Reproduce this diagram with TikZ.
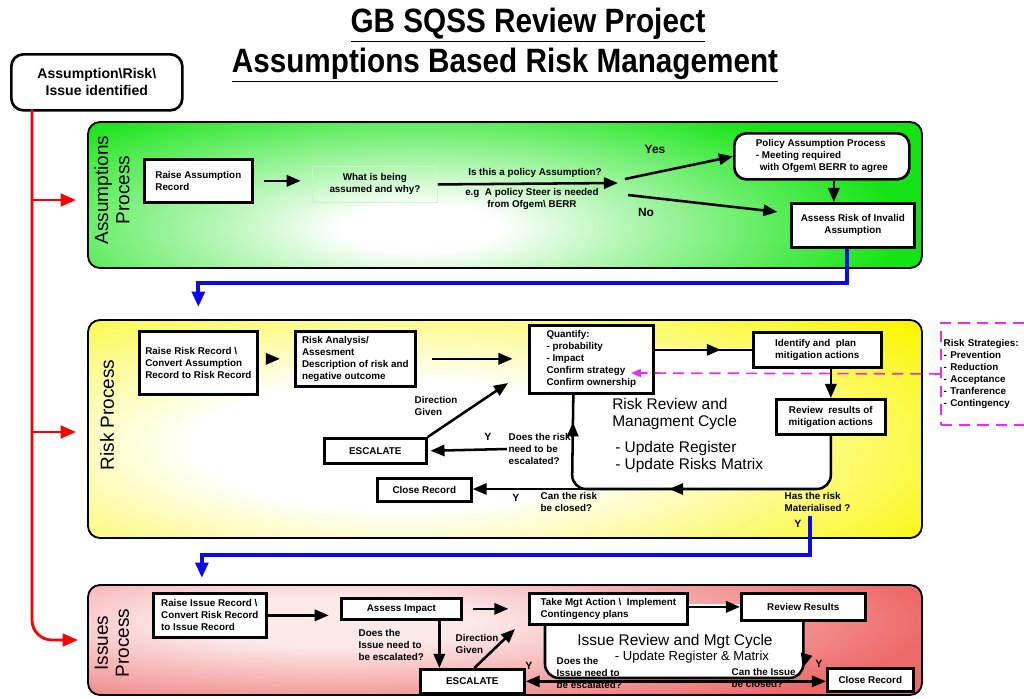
\documentclass[tikz,border=0pt]{standalone}
\usepackage{fontspec}
\setmainfont{Liberation Sans}
\newfontfamily\titlefont[FakeStretch=0.88]{Liberation Sans}
\usetikzlibrary{arrows.meta,decorations.markings}

\newcommand\pxu{0.025cm}
\newcommand\boxtext{\bfseries\fontsize{7}{8.5}\selectfont}
\definecolor{agreen}{RGB}{20,228,20}
\definecolor{ryellow}{RGB}{250,246,0}
\definecolor{ired}{RGB}{238,106,106}
\definecolor{stratpink}{RGB}{240,40,240}
\definecolor{flowblue}{RGB}{10,10,235}
\pgfdeclareradialshading{glowgreen}{\pgfpoint{0bp}{0bp}}{color(0bp)=(white); color(4bp)=(white); color(25bp)=(agreen); color(50bp)=(agreen)}
\pgfdeclareradialshading{glowyellow}{\pgfpoint{0bp}{0bp}}{color(0bp)=(white); color(8bp)=(white); color(25bp)=(ryellow); color(50bp)=(ryellow)}
\pgfdeclareradialshading{glowred}{\pgfpoint{0bp}{0bp}}{color(0bp)=(white!85!ired); color(6bp)=(white!85!ired); color(25bp)=(ired); color(50bp)=(ired)}

\begin{document}
\begin{tikzpicture}[x=\pxu,y=-\pxu]

    \tikzset{
      box/.style={draw, line width=1.9pt, fill=white, inner sep=2pt, anchor=north west, align=left, font=\boxtext},
      sized/.style 2 args={minimum width=#1*\pxu, minimum height=#2*\pxu},
      lbl/.style={font=\boxtext, align=left, inner sep=1pt},
      tag/.style={font=\bfseries\fontsize{8.5}{10}\selectfont, inner sep=1pt},
      side/.style={font=\fontsize{13.5}{15}\selectfont, rotate=90, align=center},
      cyctext/.style={font=\fontsize{11}{12.6}\selectfont, align=left, inner sep=0pt, anchor=west},
      arrow/.style={line width=1.8pt, -{Triangle[length=10pt,width=8pt]}},
      cycline/.style={line width=1.8pt},
      redarrow/.style={red, line width=2pt, -{Triangle[length=11pt,width=9pt]}},
      bluearrow/.style={flowblue, line width=2.8pt, -{Triangle[length=11pt,width=9pt]}},
      magarrow/.style={stratpink, line width=1.2pt, dash pattern=on 8pt off 5pt, -{Triangle[length=7pt,width=5.5pt]}},
      panel/.style={draw, line width=1.3pt, rounded corners=0.3cm},
      midtip/.style={postaction={decorate, decoration={markings, mark=at position #1 with {\arrow{Triangle[length=10pt,width=8pt]}}}}},
    }
    \clip (0,0) rectangle (1024,698);

    % headings
    \node[font=\titlefont\bfseries\fontsize{24}{28}\selectfont] (title) at (528,25) {\underline{GB SQSS Review Project}};
    \node[font=\titlefont\bfseries\fontsize{24}{28}\selectfont] (subtitle) at (505,65) {\underline{Assumptions Based Risk Management}};

    \node[box, sized={171}{56}, rounded corners=0.3cm, align=center, font=\bfseries\fontsize{10}{12}\selectfont] (ident) at (10,53) {Assumption\textbackslash Risk\textbackslash\\Issue identified};

    % panels
    \begin{scope}
      \clip[rounded corners=0.3cm] (88,122) rectangle (922,268);
      \fill[agreen] (88,122) rectangle (922,268);
      \shade[shading=glowgreen] (420,228) ellipse [x radius=12cm, y radius=3.6cm];
    \end{scope}
    \draw[panel] (88,122) rectangle (922,268);
    \begin{scope}
      \clip[rounded corners=0.3cm] (88,320) rectangle (922,538);
      \fill[ryellow] (88,320) rectangle (922,538);
      \shade[shading=glowyellow] (400,445) ellipse [x radius=16cm, y radius=5cm];
    \end{scope}
    \draw[panel] (88,320) rectangle (922,538);
    \begin{scope}
      \clip[rounded corners=0.3cm] (88,585) rectangle (922,695);
      \fill[ired] (88,585) rectangle (922,695);
      \shade[shading=glowred] (330,622) ellipse [x radius=15cm, y radius=2.6cm];
    \end{scope}
    \draw[panel] (88,585) rectangle (922,695);

    % red feed
    \coordinate (redtop) at (32,109);
    \coordinate (apin) at (76,200);
    \coordinate (rpin) at (76,432);
    \coordinate (ipin) at (78,640);
    \draw[redarrow, rounded corners=0.5cm] (redtop) |- (ipin);
    \draw[redarrow] (redtop |- apin) -- (apin);
    \draw[redarrow] (redtop |- rpin) -- (rpin);

    % assumptions
    \node[side] (aside) at (112,190) {Assumptions\\Process};
    \node[box, sized={108}{43}] (rar) at (143,158) {Raise Assumption\\Record};
    \node[box, sized={125}{36}, draw=white!75!agreen, line width=0.6pt, fill=none, align=center] (what) at (312,166) {What is being\\assumed and why?};
    \node[box, sized={175}{46}, rounded corners=0.3cm] (pap) at (733,132) {Policy Assumption Process\\- Meeting required\\\hspace*{0.4em}with Ofgem\textbackslash\ BERR to agree};
    \node[box, sized={123}{44}, align=center] (arisk) at (790,202) {Assess Risk of Invalid\\Assumption};
    \coordinate (fork) at (618,183);
    \coordinate (yesfrom) at (625,179);
    \coordinate (nofrom) at (628,195);
    \draw[arrow, shorten <=7pt, shorten >=8pt] (rar.east) -- (rar.east -| what.west);
    \draw[arrow] (what.east) -- (fork);
    \node[lbl] (polq) at (535,173) {Is this a policy Assumption?};
    \node[lbl, align=center] (polnote) at (532,199) {e.g\ \ A policy Steer is needed\\from Ofgem\textbackslash\ BERR};
    \draw[arrow] (yesfrom) -- (pap.west);
    \draw[arrow, shorten >=9pt] (nofrom) -- ([yshift=12*\pxu]arisk.west);
    \node[tag] (yes) at (655,149) {Yes};
    \node[tag] (no) at (646,212) {No};
    \draw[arrow] ([xshift=12*\pxu]pap.south) -- ([xshift=-19*\pxu]arisk.north);

    % risks
    \node[side] (rside) at (107,415) {Risk Process};
    \node[box, sized={118}{63}] (rrr) at (138,330) {Raise Risk Record \textbackslash\\Convert Assumption\\Record to Risk Record};
    \node[box, sized={120}{55}] (ra) at (294,330) {Risk Analysis/\\Assesment\\Description of risk and\\negative outcome};
    \coordinate (rcl) at (572,489);
    \fill[white, rounded corners=0.35cm] (572,348) rectangle (830,489);
    \node[box, sized={124}{68}] (quant) at (528,324) {Quantify:\\- probability\\- Impact\\Confirm strategy\\Confirm ownership};
    \node[box, sized={128}{35}] (plan) at (752,331) {Identify and\ \ plan\\mitigation actions};
    \node[box, sized={109}{35}, align=center] (rvw) at (775,398) {Review\ \ results of\\mitigation actions};
    \draw[cycline, rounded corners=0.35cm, midtip=0.53, midtip=0.93] (rvw.south) |- (rcl) -- ([xshift=-18*\pxu]quant.south);
    \draw[cycline, midtip=0.68] (quant.east |- plan.west) -- (plan.west);
    \draw[arrow] (rvw.north |- plan.south) -- (rvw.north);
    \draw[arrow, shorten <=7pt, shorten >=10pt] (rrr.east |- ra.west) -- (ra.west);
    \draw[arrow, shorten <=11pt, shorten >=11pt] (ra.east) -- (ra.east -| quant.west);
    \node[cyctext] (rcyc) at (612,414) {Risk Review and\\Managment Cycle};
    \node[cyctext] (rupd) at (615,457) {- Update Register\\- Update Risks Matrix};

    \node[draw, stratpink, line width=1.3pt, dash pattern=on 8pt off 5pt, anchor=north west, minimum height=102*\pxu, text width=2.6cm, inner sep=2pt, align=left, font=\boxtext, text=black] (strat) at (940,322) {Risk Strategies:\\- Prevention\\- Reduction\\- Acceptance\\- Tranference\\- Contingency};
    \coordinate (qtip) at (631,373);
    \draw[magarrow] (strat.west) -- (qtip);

    \node[box, sized={102}{25}, align=center] (resc) at (323,437) {ESCALATE};
    \node[lbl, anchor=west] (rq) at (507,449) {Does the risk\\need to be\\escalated?};
    \draw[arrow, shorten >=2pt] (rq.west) -- (resc.east);
    \node[tag, font=\bfseries\fontsize{7.5}{9}\selectfont] (ry1) at (488,437) {Y};
    \node[lbl, align=left] (rdirl) at (436,406) {Direction\\Given};
    \coordinate (rdir) at (508,383);
    \draw[arrow] (resc.north east) -- (rdir);

    \node[box, sized={94}{23}, align=center] (rclose) at (376,477) {Close Record};
    \draw[arrow] ([xshift=20*\pxu]rcl) -- (rclose.east |- rcl);
    \node[tag, font=\bfseries\fontsize{7.5}{9}\selectfont] (ry2) at (516,498) {Y};
    \node[lbl, anchor=west] (rcq) at (539,502) {Can the risk\\be closed?};
    \node[lbl, anchor=west] (mat) at (783,502) {Has the risk\\Materialised ?};
    \node[tag, font=\bfseries\fontsize{7.5}{9}\selectfont] (ry3) at (798,524) {Y};
    \coordinate (bstart) at (810,516);
    \draw[bluearrow] ([xshift=-6*\pxu]arisk.south) -- ++(0,34) -| ([yshift=23*\pxu]rrr.north);

    % issues
    \node[side] (iside) at (112,643) {Issues\\Process};
    \node[box, sized={113}{44}] (iraise) at (152,592) {Raise Issue Record \textbackslash\\Convert Risk Record\\to Issue Record};
    \draw[bluearrow] (bstart) -- ++(0,39) -| ([xshift=-8*\pxu, yshift=14*\pxu]iraise.north);
    \node[box, sized={120}{21}, align=center] (aimp) at (340,597) {Assess Impact};
    \coordinate (icl) at (545,678);
    \fill[white, rounded corners=0.35cm] (545,604) rectangle (802,678);
    \node[box, sized={158}{31}] (take) at (528,592) {Take Mgt Action \textbackslash\ \ Implement\\Contingency plans};
    \node[box, sized={124}{27}, align=center] (irev) at (740,592) {Review Results};
    \draw[cycline, rounded corners=0.35cm, midtip=0.13] (irev.south) |- (icl) -- (icl |- take.south);
    \draw[arrow, shorten >=8pt] (iraise.east) -- (iraise.east -| aimp.west);
    \draw[arrow, shorten <=7pt, shorten >=14pt] (aimp.east) -- (aimp.east -| take.west);
    \draw[arrow] (take.east |- irev.west) -- (irev.west);
    \node[cyctext, anchor=center] (icyc) at (675,641) {Issue Review and Mgt Cycle};
    \node[cyctext, anchor=center, font=\fontsize{9.3}{11}\selectfont] (iupd) at (692,657) {- Update Register \& Matrix};

    \node[box, sized={104}{24}, align=center] (iesc) at (419,668) {ESCALATE};
    \node[box, sized={86}{23}, align=center] (iclose) at (826,667) {Close Record};
    \draw[arrow] ([xshift=38*\pxu]aimp.south) -- ([xshift=38*\pxu]aimp.south |- iesc.north);
    \node[lbl, anchor=west] (iq1) at (357,645) {Does the\\Issue need to\\be escalated?};
    \node[lbl, anchor=west] (idirl) at (454,644) {Direction\\Given};
    \coordinate (idir) at (515,629);
    \draw[arrow] ([xshift=2*\pxu]iesc.north) -- (idir);
    \draw[arrow, {Triangle[length=10pt,width=8pt]}-{Triangle[length=10pt,width=8pt]}] (iesc.east) -- (iesc.east -| iclose.west);
    \node[lbl, anchor=west] (iq2) at (555,673) {Does the\\Issue need to\\be escalated?};
    \node[lbl, anchor=west] (iq3) at (730,678) {Can the Issue\\be closed?};
    \node[tag, font=\bfseries\fontsize{7.5}{9}\selectfont] (iy1) at (529,666) {Y};
    \node[tag, font=\bfseries\fontsize{7.5}{9}\selectfont] (iy2) at (819,664) {Y};

\end{tikzpicture}
\end{document}
